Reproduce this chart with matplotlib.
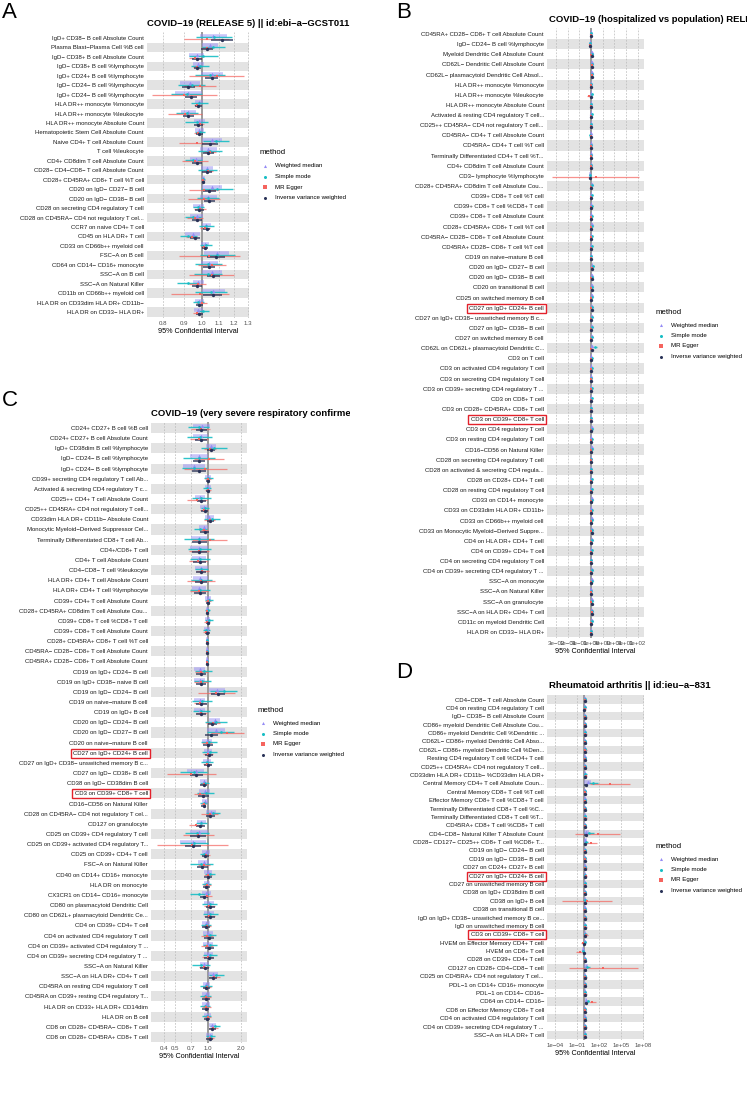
import numpy as np
import matplotlib
matplotlib.use("Agg")
import matplotlib.pyplot as plt
from matplotlib.lines import Line2D
from matplotlib.transforms import Bbox, TransformedBbox

plt.rcParams['font.family'] = ['Liberation Sans', 'DejaVu Sans']

# ---------------- data: (beta = log OR, se) per method ----------------
A_rows = ["IgD+ CD38− B cell Absolute Count", "Plasma Blast−Plasma Cell %B cell",
          "IgD− CD38+ B cell Absolute Count", "IgD− CD38+ B cell %lymphocyte",
          "IgD+ CD24+ B cell %lymphocyte", "IgD− CD24− B cell %lymphocyte",
          "IgD+ CD24− B cell %lymphocyte", "HLA DR++ monocyte %monocyte",
          "HLA DR++ monocyte %leukocyte", "HLA DR++ monocyte Absolute Count",
          "Hematopoietic Stem Cell Absolute Count", "Naive CD4+ T cell Absolute Count",
          "T cell %leukocyte", "CD4+ CD8dim T cell Absolute Count",
          "CD28− CD4−CD8− T cell Absolute Count", "CD28+ CD45RA+ CD8+ T cell %T cell",
          "CD20 on IgD− CD27− B cell", "CD20 on IgD− CD38− B cell",
          "CD28 on secreting CD4 regulatory T cell", "CD28 on CD45RA− CD4 not regulatory T cel...",
          "CCR7 on naive CD4+ T cell", "CD45 on HLA DR+ T cell",
          "CD33 on CD66b++ myeloid cell", "FSC−A on B cell",
          "CD64 on CD14− CD16+ monocyte", "SSC−A on B cell",
          "SSC−A on Natural Killer", "CD11b on CD66b++ myeloid cell",
          "HLA DR on CD33dim HLA DR+ CD11b−", "HLA DR on CD33− HLA DR+"]
A_ivw = [(0.112, 0.032), (0.030, 0.017), (-0.030, 0.015), (-0.027, 0.010), (0.055, 0.019),
         (-0.078, 0.019), (-0.065, 0.017), (-0.021, 0.010), (-0.078, 0.015), (-0.021, 0.013),
         (-0.015, 0.010), (0.046, 0.024), (0.036, 0.017), (-0.030, 0.015), (0.030, 0.014),
         (0.008, 0.004), (0.042, 0.019), (0.042, 0.017), (-0.015, 0.012), (-0.030, 0.015),
         (0.027, 0.010), (-0.040, 0.015), (0.017, 0.010), (0.080, 0.027), (0.040, 0.017),
         (0.065, 0.019), (-0.030, 0.015), (0.061, 0.027), (-0.015, 0.010), (-0.015, 0.010)]
A_egger = [(0.027, 0.066), (0.027, 0.015), (-0.040, 0.019), (-0.030, 0.010), (0.084, 0.080),
           (-0.011, 0.046), (-0.101, 0.095), (-0.027, 0.010), (-0.097, 0.049), (-0.011, 0.012),
           (-0.025, 0.012), (-0.027, 0.053), (0.046, 0.017), (-0.040, 0.039), (0.036, 0.015),
           (0.008, 0.006), (0.011, 0.044), (0.011, 0.046), (-0.011, 0.017), (-0.040, 0.024),
           (0.017, 0.015), (-0.059, 0.016), (0.011, 0.010), (0.040, 0.089), (0.055, 0.041),
           (0.055, 0.066), (-0.025, 0.024), (-0.011, 0.085), (-0.002, 0.016), (-0.030, 0.012)]
A_mode = [(0.070, 0.053), (0.065, 0.034), (0.008, 0.043), (-0.011, 0.027), (0.046, 0.044),
          (-0.059, 0.039), (-0.088, 0.046), (-0.015, 0.024), (-0.088, 0.032), (-0.030, 0.033),
          (-0.011, 0.015), (0.080, 0.039), (0.046, 0.036), (-0.050, 0.024), (0.030, 0.028),
          (0.008, 0.004), (0.084, 0.046), (0.036, 0.032), (-0.021, 0.017), (-0.050, 0.023),
          (0.023, 0.022), (-0.078, 0.024), (0.023, 0.017), (0.088, 0.052), (0.036, 0.040),
          (0.036, 0.041), (-0.078, 0.032), (0.050, 0.047), (-0.021, 0.017), (0.004, 0.017)]
A_wm = [(0.065, 0.039), (0.046, 0.023), (-0.030, 0.022), (-0.021, 0.015), (0.055, 0.032),
        (-0.069, 0.029), (-0.078, 0.039), (-0.017, 0.012), (-0.078, 0.022), (-0.015, 0.015),
        (-0.015, 0.012), (0.055, 0.029), (0.036, 0.024), (-0.034, 0.019), (0.030, 0.017),
        (0.008, 0.004), (0.055, 0.029), (0.036, 0.024), (-0.019, 0.016), (-0.030, 0.019),
        (0.023, 0.013), (-0.053, 0.022), (0.017, 0.012), (0.084, 0.036), (0.042, 0.024),
        (0.055, 0.029), (-0.021, 0.015), (0.065, 0.033), (-0.015, 0.012), (-0.021, 0.014)]

B_rows = ["CD45RA+ CD28− CD8+ T cell Absolute Count", "IgD− CD24− B cell %lymphocyte",
          "Myeloid Dendritic Cell Absolute Count", "CD62L− Dendritic Cell Absolute Count",
          "CD62L− plasmacytoid Dendritic Cell Absol...", "HLA DR++ monocyte %monocyte",
          "HLA DR++ monocyte %leukocyte", "HLA DR++ monocyte Absolute Count",
          "Activated & resting CD4 regulatory T cell...", "CD25++ CD45RA− CD4 not regulatory T cell...",
          "CD45RA− CD4+ T cell Absolute Count", "CD45RA− CD4+ T cell %T cell",
          "Terminally Differentiated CD4+ T cell %T...", "CD4+ CD8dim T cell Absolute Count",
          "CD3− lymphocyte %lymphocyte", "CD28+ CD45RA+ CD8dim T cell Absolute Cou...",
          "CD39+ CD8+ T cell %T cell", "CD39+ CD8+ T cell %CD8+ T cell",
          "CD39+ CD8+ T cell Absolute Count", "CD28+ CD45RA+ CD8+ T cell %T cell",
          "CD45RA− CD28− CD8+ T cell Absolute Count", "CD45RA+ CD28− CD8+ T cell %T cell",
          "CD19 on naive−mature B cell", "CD20 on IgD− CD27− B cell",
          "CD20 on IgD− CD38− B cell", "CD20 on transitional B cell",
          "CD25 on switched memory B cell", "CD27 on IgD+ CD24+ B cell",
          "CD27 on IgD+ CD38− unswitched memory B c...", "CD27 on IgD− CD38− B cell",
          "CD27 on switched memory B cell", "CD62L on CD62L+ plasmacytoid Dendritic C...",
          "CD3 on T cell", "CD3 on activated CD4 regulatory T cell",
          "CD3 on secreting CD4 regulatory T cell", "CD3 on CD39+ secreting CD4 regulatory T ...",
          "CD3 on CD8+ T cell", "CD3 on CD28+ CD45RA+ CD8+ T cell",
          "CD3 on CD39+ CD8+ T cell", "CD3 on CD4 regulatory T cell",
          "CD3 on resting CD4 regulatory T cell", "CD16−CD56 on Natural Killer",
          "CD28 on secreting CD4 regulatory T cell", "CD28 on activated & secreting CD4 regula...",
          "CD28 on CD28+ CD4+ T cell", "CD28 on resting CD4 regulatory T cell",
          "CD33 on CD14+ monocyte", "CD33 on CD33dim HLA DR+ CD11b+",
          "CD33 on CD66b++ myeloid cell", "CD33 on Monocytic Myeloid−Derived Suppre...",
          "CD4 on HLA DR+ CD4+ T cell", "CD4 on CD39+ CD4+ T cell",
          "CD4 on secreting CD4 regulatory T cell", "CD4 on CD39+ secreting CD4 regulatory T ...",
          "SSC−A on monocyte", "SSC−A on Natural Killer",
          "SSC−A on granulocyte", "SSC−A on HLA DR+ CD4+ T cell",
          "CD11c on myeloid Dendritic Cell", "HLA DR on CD33− HLA DR+"]
B_ivw = [(0.02, 0.01), (-0.08, 0.02), (0.05, 0.02), (0.06, 0.02), (0.07, 0.02),
         (0.00, 0.01), (0.01, 0.02), (0.01, 0.01), (0.03, 0.01), (0.02, 0.01),
         (-0.04, 0.02), (0.01, 0.01), (0.01, 0.01), (0.02, 0.02), (-0.06, 0.03),
         (0.04, 0.02), (0.03, 0.01), (0.03, 0.01), (0.03, 0.01), (0.04, 0.01),
         (0.03, 0.01), (0.03, 0.01), (0.00, 0.01), (0.08, 0.02), (0.05, 0.02),
         (0.06, 0.02), (0.04, 0.01), (0.05, 0.01), (0.04, 0.01), (0.04, 0.01),
         (0.04, 0.01), (0.06, 0.02), (0.03, 0.01), (0.03, 0.01), (0.02, 0.01),
         (0.02, 0.01), (0.03, 0.01), (0.02, 0.01), (0.02, 0.01), (0.04, 0.01),
         (0.03, 0.01), (0.04, 0.01), (0.01, 0.01), (-0.02, 0.01), (0.03, 0.01),
         (0.03, 0.01), (0.04, 0.01), (0.03, 0.01), (0.04, 0.01), (0.05, 0.01),
         (0.04, 0.01), (0.03, 0.01), (0.00, 0.01), (0.04, 0.01), (0.04, 0.01),
         (-0.03, 0.01), (0.05, 0.01), (0.06, 0.02), (0.04, 0.01), (0.01, 0.01)]
B_egger = [(0.03, 0.03), (-0.10, 0.04), (0.04, 0.03), (0.05, 0.03), (0.06, 0.04),
           (-0.02, 0.03), (-0.25, 0.06), (0.00, 0.03), (0.02, 0.03), (0.01, 0.03),
           (-0.05, 0.03), (0.00, 0.03), (0.00, 0.03), (0.01, 0.03), (0.45, 2.20),
           (0.03, 0.03), (0.02, 0.02), (0.02, 0.02), (0.02, 0.02), (0.03, 0.02),
           (0.02, 0.02), (0.02, 0.02), (-0.01, 0.02), (0.06, 0.04), (0.04, 0.03),
           (0.04, 0.03), (0.03, 0.02), (0.04, 0.02), (0.03, 0.02), (0.03, 0.02),
           (0.03, 0.02), (0.04, 0.03), (0.02, 0.02), (0.02, 0.02), (0.01, 0.02),
           (0.01, 0.02), (0.02, 0.02), (0.01, 0.02), (0.01, 0.02), (0.03, 0.02),
           (0.02, 0.02), (0.03, 0.02), (0.00, 0.02), (-0.04, 0.02), (0.02, 0.02),
           (0.02, 0.02), (0.03, 0.02), (0.02, 0.02), (0.03, 0.02), (0.04, 0.02),
           (0.03, 0.02), (0.02, 0.02), (-0.01, 0.02), (0.03, 0.02), (0.03, 0.02),
           (-0.05, 0.02), (0.04, 0.02), (0.05, 0.03), (0.03, 0.02), (0.00, 0.02)]
B_mode = [(0.03, 0.03), (-0.12, 0.05), (0.07, 0.04), (0.08, 0.04), (0.10, 0.05),
          (0.02, 0.03), (0.05, 0.05), (0.02, 0.03), (0.05, 0.03), (0.04, 0.03),
          (-0.06, 0.04), (0.03, 0.03), (0.02, 0.03), (0.03, 0.04), (-0.12, 0.06),
          (0.06, 0.04), (0.05, 0.03), (0.05, 0.03), (0.05, 0.03), (0.06, 0.03),
          (0.05, 0.03), (0.05, 0.03), (0.02, 0.03), (0.15, 0.05), (0.08, 0.04),
          (0.10, 0.05), (0.06, 0.03), (0.07, 0.03), (0.06, 0.03), (0.06, 0.03),
          (0.06, 0.03), (0.40, 0.08), (0.05, 0.03), (0.05, 0.03), (0.04, 0.03),
          (0.05, 0.03), (0.05, 0.03), (0.04, 0.03), (0.04, 0.03), (0.06, 0.03),
          (0.05, 0.03), (0.06, 0.03), (0.03, 0.03), (-0.03, 0.03), (0.05, 0.03),
          (0.05, 0.03), (0.06, 0.03), (0.05, 0.03), (0.06, 0.03), (0.07, 0.03),
          (0.06, 0.03), (0.05, 0.03), (0.02, 0.03), (0.08, 0.04), (0.06, 0.03),
          (-0.05, 0.03), (0.07, 0.03), (0.09, 0.04), (0.06, 0.03), (0.03, 0.03)]
B_wm = [(0.03, 0.02), (-0.09, 0.03), (0.06, 0.03), (0.07, 0.03), (0.08, 0.03),
        (0.01, 0.02), (0.02, 0.03), (0.02, 0.02), (0.04, 0.02), (0.03, 0.02),
        (-0.05, 0.03), (0.02, 0.02), (0.02, 0.02), (0.03, 0.03), (-0.08, 0.04),
        (0.05, 0.03), (0.04, 0.02), (0.04, 0.02), (0.04, 0.02), (0.05, 0.02),
        (0.04, 0.02), (0.04, 0.02), (0.01, 0.02), (0.10, 0.03), (0.06, 0.03),
        (0.07, 0.03), (0.05, 0.02), (0.06, 0.02), (0.05, 0.02), (0.05, 0.02),
        (0.05, 0.02), (0.08, 0.03), (0.04, 0.02), (0.04, 0.02), (0.03, 0.02),
        (0.03, 0.02), (0.04, 0.02), (0.03, 0.02), (0.03, 0.02), (0.05, 0.02),
        (0.04, 0.02), (0.05, 0.02), (0.02, 0.02), (-0.02, 0.02), (0.04, 0.02),
        (0.04, 0.02), (0.05, 0.02), (0.04, 0.02), (0.05, 0.02), (0.06, 0.02),
        (0.05, 0.02), (0.04, 0.02), (0.01, 0.02), (0.05, 0.02), (0.05, 0.02),
        (-0.04, 0.02), (0.06, 0.02), (0.07, 0.03), (0.05, 0.02), (0.02, 0.02)]

C_rows = ["CD24+ CD27+ B cell %B cell", "CD24+ CD27+ B cell Absolute Count",
          "IgD+ CD38dim B cell %lymphocyte", "IgD− CD24− B cell %lymphocyte",
          "IgD+ CD24− B cell %lymphocyte", "CD39+ secreting CD4 regulatory T cell Ab...",
          "Activated & secreting CD4 regulatory T c...", "CD25++ CD4+ T cell Absolute Count",
          "CD25++ CD45RA+ CD4 not regulatory T cell...", "CD33dim HLA DR+ CD11b− Absolute Count",
          "Monocytic Myeloid−Derived Suppressor Cel...", "Terminally Differentiated CD8+ T cell Ab...",
          "CD4+/CD8+ T cell", "CD4+ T cell Absolute Count",
          "CD4−CD8− T cell %leukocyte", "HLA DR+ CD4+ T cell Absolute Count",
          "HLA DR+ CD4+ T cell %lymphocyte", "CD39+ CD4+ T cell Absolute Count",
          "CD28+ CD45RA+ CD8dim T cell Absolute Cou...", "CD39+ CD8+ T cell %CD8+ T cell",
          "CD39+ CD8+ T cell Absolute Count", "CD28+ CD45RA+ CD8+ T cell %T cell",
          "CD45RA− CD28− CD8+ T cell Absolute Count", "CD45RA+ CD28− CD8+ T cell Absolute Count",
          "CD19 on IgD+ CD24− B cell", "CD19 on IgD+ CD38− naive B cell",
          "CD19 on IgD− CD24− B cell", "CD19 on naive−mature B cell",
          "CD19 on IgD+ B cell", "CD20 on IgD− CD24− B cell",
          "CD20 on IgD− CD27− B cell", "CD20 on naive−mature B cell",
          "CD27 on IgD+ CD24+ B cell", "CD27 on IgD+ CD38− unswitched memory B c...",
          "CD27 on IgD− CD38+ B cell", "CD38 on IgD− CD38dim B cell",
          "CD3 on CD39+ CD8+ T cell", "CD16−CD56 on Natural Killer",
          "CD28 on CD45RA− CD4 not regulatory T cel...", "CD127 on granulocyte",
          "CD25 on CD39+ CD4 regulatory T cell", "CD25 on CD39+ activated CD4 regulatory T...",
          "CD25 on CD39+ CD4+ T cell", "FSC−A on Natural Killer",
          "CD40 on CD14+ CD16+ monocyte", "HLA DR on monocyte",
          "CX3CR1 on CD14− CD16+ monocyte", "CD80 on plasmacytoid Dendritic Cell",
          "CD80 on CD62L+ plasmacytoid Dendritic Ce...", "CD4 on CD39+ CD4+ T cell",
          "CD4 on activated CD4 regulatory T cell", "CD4 on CD39+ activated CD4 regulatory T ...",
          "CD4 on CD39+ secreting CD4 regulatory T ...", "SSC−A on Natural Killer",
          "SSC−A on HLA DR+ CD4+ T cell", "CD45RA on resting CD4 regulatory T cell",
          "CD45RA on CD39+ resting CD4 regulatory T...", "HLA DR on CD33+ HLA DR+ CD14dim",
          "HLA DR on B cell", "CD8 on CD28+ CD45RA− CD8+ T cell",
          "CD8 on CD28+ CD45RA+ CD8+ T cell"]
C_ivw = [(-0.133, 0.061), (-0.147, 0.062), (0.063, 0.041), (-0.189, 0.062), (-0.182, 0.071),
         (0.007, 0.025), (0.007, 0.025), (-0.133, 0.050), (-0.063, 0.036), (0.056, 0.041),
         (-0.063, 0.050), (-0.182, 0.080), (-0.182, 0.080), (-0.168, 0.068), (-0.133, 0.054),
         (-0.147, 0.062), (-0.168, 0.064), (0.007, 0.025), (-0.007, 0.018), (0.007, 0.025),
         (-0.014, 0.027), (-0.007, 0.011), (-0.007, 0.011), (-0.007, 0.011), (-0.133, 0.054),
         (-0.133, 0.054), (0.217, 0.071), (-0.133, 0.057), (-0.133, 0.054), (0.098, 0.045),
         (0.077, 0.068), (0.007, 0.054), (0.021, 0.045), (0.007, 0.046), (-0.238, 0.071),
         (-0.084, 0.036), (-0.098, 0.059), (-0.084, 0.027), (0.056, 0.045), (-0.154, 0.045),
         (-0.203, 0.086), (-0.308, 0.089), (-0.049, 0.041), (-0.112, 0.059), (0.007, 0.046),
         (-0.028, 0.039), (-0.084, 0.045), (0.056, 0.045), (0.042, 0.054), (-0.028, 0.043),
         (0.028, 0.054), (0.028, 0.048), (0.028, 0.050), (-0.063, 0.050), (0.112, 0.045),
         (-0.028, 0.040), (-0.042, 0.045), (-0.042, 0.040), (-0.014, 0.035), (0.098, 0.040),
         (0.042, 0.035)]
C_egger = [(-0.147, 0.102), (-0.182, 0.095), (0.042, 0.062), (0.028, 0.161), (-0.049, 0.232),
           (0.007, 0.029), (0.007, 0.029), (-0.224, 0.107), (-0.084, 0.045), (0.042, 0.057),
           (-0.084, 0.048), (0.042, 0.187), (-0.189, 0.107), (-0.203, 0.095), (-0.112, 0.068),
           (-0.147, 0.152), (-0.182, 0.098), (0.007, 0.032), (-0.007, 0.018), (-0.014, 0.029),
           (-0.028, 0.032), (-0.007, 0.011), (-0.007, 0.011), (-0.007, 0.011), (-0.133, 0.071),
           (-0.147, 0.077), (0.182, 0.196), (-0.168, 0.064), (-0.133, 0.061), (0.112, 0.071),
           (0.413, 0.175), (-0.014, 0.057), (0.007, 0.050), (-0.014, 0.046), (-0.343, 0.259),
           (-0.084, 0.043), (-0.154, 0.071), (-0.084, 0.029), (0.042, 0.089), (-0.252, 0.075),
           (-0.203, 0.166), (-0.322, 0.384), (-0.028, 0.043), (-0.084, 0.062), (0.007, 0.046),
           (-0.014, 0.043), (-0.014, 0.054), (0.028, 0.059), (0.028, 0.059), (-0.014, 0.043),
           (-0.014, 0.062), (-0.014, 0.061), (0.000, 0.060), (-0.084, 0.055), (0.140, 0.055),
           (-0.014, 0.045), (-0.030, 0.050), (-0.030, 0.045), (0.000, 0.040), (0.120, 0.050),
           (0.050, 0.040)]
C_mode = [(-0.189, 0.112), (-0.168, 0.134), (0.133, 0.137), (-0.182, 0.169), (-0.287, 0.134),
          (0.014, 0.046), (-0.014, 0.046), (-0.133, 0.098), (-0.063, 0.041), (0.091, 0.089),
          (-0.154, 0.068), (-0.182, 0.164), (-0.168, 0.125), (-0.154, 0.107), (-0.133, 0.071),
          (-0.133, 0.116), (-0.168, 0.107), (0.028, 0.045), (0.000, 0.025), (0.028, 0.045),
          (-0.028, 0.036), (-0.007, 0.011), (-0.007, 0.011), (-0.007, 0.011), (-0.084, 0.089),
          (-0.112, 0.089), (0.336, 0.146), (-0.112, 0.107), (-0.133, 0.089), (0.168, 0.116),
          (0.273, 0.143), (0.028, 0.089), (0.042, 0.080), (-0.014, 0.062), (-0.294, 0.143),
          (-0.063, 0.050), (-0.042, 0.089), (-0.084, 0.036), (0.112, 0.078), (-0.133, 0.062),
          (-0.224, 0.125), (-0.294, 0.152), (-0.084, 0.045), (-0.133, 0.125), (0.042, 0.054),
          (-0.028, 0.048), (-0.182, 0.102), (0.042, 0.080), (0.056, 0.080), (-0.028, 0.054),
          (0.042, 0.071), (0.042, 0.077), (0.042, 0.075), (-0.140, 0.100), (0.182, 0.080),
          (-0.035, 0.060), (-0.050, 0.060), (-0.050, 0.055), (-0.020, 0.050), (0.147, 0.055),
          (0.060, 0.050)]
C_wm = [(-0.126, 0.089), (-0.147, 0.080), (0.077, 0.054), (-0.189, 0.098), (-0.287, 0.114),
        (0.007, 0.032), (0.000, 0.032), (-0.168, 0.054), (-0.084, 0.043), (0.028, 0.048),
        (-0.084, 0.050), (-0.182, 0.089), (-0.189, 0.095), (-0.182, 0.075), (-0.133, 0.066),
        (-0.154, 0.077), (-0.182, 0.075), (0.007, 0.029), (-0.007, 0.018), (0.000, 0.029),
        (-0.014, 0.029), (-0.007, 0.011), (-0.007, 0.011), (-0.007, 0.011), (-0.168, 0.057),
        (-0.168, 0.059), (0.196, 0.089), (-0.168, 0.059), (-0.168, 0.059), (0.147, 0.057),
        (0.168, 0.098), (-0.014, 0.050), (0.007, 0.046), (-0.014, 0.045), (-0.252, 0.089),
        (-0.084, 0.036), (-0.063, 0.061), (-0.063, 0.032), (0.077, 0.054), (-0.133, 0.046),
        (-0.182, 0.098), (-0.308, 0.143), (-0.042, 0.043), (-0.084, 0.057), (0.007, 0.039),
        (-0.014, 0.036), (-0.028, 0.050), (0.028, 0.050), (0.028, 0.050), (-0.028, 0.043),
        (0.007, 0.054), (0.007, 0.050), (0.014, 0.050), (-0.070, 0.050), (0.112, 0.050),
        (-0.028, 0.040), (-0.042, 0.045), (-0.040, 0.040), (-0.010, 0.035), (0.100, 0.040),
        (0.040, 0.035)]

D_rows = ["CD4−CD8− T cell Absolute Count", "CD4 on resting CD4 regulatory T cell",
          "IgD− CD38− B cell Absolute Count", "CD86+ myeloid Dendritic Cell Absolute Cou...",
          "CD86+ myeloid Dendritic Cell %Dendritic ...", "CD62L− CD86+ myeloid Dendritic Cell Abso...",
          "CD62L− CD86+ myeloid Dendritic Cell %Den...", "Resting CD4 regulatory T cell %CD4+ T cell",
          "CD25++ CD45RA+ CD4 not regulatory T cell...", "CD33dim HLA DR+ CD11b− %CD33dim HLA DR+",
          "Central Memory CD4+ T cell Absolute Coun...", "Central Memory CD8+ T cell %T cell",
          "Effector Memory CD8+ T cell %CD8+ T cell", "Terminally Differentiated CD8+ T cell %C...",
          "Terminally Differentiated CD8+ T cell %T...", "CD45RA+ CD8+ T cell %CD8+ T cell",
          "CD4−CD8− Natural Killer T Absolute Count", "CD28− CD127− CD25++ CD8+ T cell %CD8+ T...",
          "CD19 on IgD− CD24− B cell", "CD19 on IgD− CD38− B cell",
          "CD27 on CD24+ CD27+ B cell", "CD27 on IgD+ CD24+ B cell",
          "CD27 on unswitched memory B cell", "CD38 on IgD+ CD38dim B cell",
          "CD38 on IgD+ B cell", "CD38 on transitional B cell",
          "IgD on IgD+ CD38− unswitched memory B ce...", "IgD on unswitched memory B cell",
          "CD3 on CD39+ CD8+ T cell", "HVEM on Effector Memory CD4+ T cell",
          "HVEM on CD8+ T cell", "CD28 on CD39+ CD4+ T cell",
          "CD127 on CD28+ CD4−CD8− T cell", "CD25 on CD45RA+ CD4 not regulatory T cel...",
          "PDL−1 on CD14+ CD16+ monocyte", "PDL−1 on CD14− CD16−",
          "CD64 on CD14− CD16−", "CD8 on Effector Memory CD8+ T cell",
          "CD4 on activated CD4 regulatory T cell", "CD4 on CD39+ secreting CD4 regulatory T ...",
          "SSC−A on HLA DR+ T cell"]
D_ivw = [(0.10, 0.05), (0.05, 0.04), (0.08, 0.05), (0.10, 0.05), (0.12, 0.05),
         (0.10, 0.05), (0.12, 0.05), (0.08, 0.05), (0.10, 0.05), (0.15, 0.06),
         (0.60, 0.30), (0.10, 0.05), (0.08, 0.05), (0.10, 0.05), (0.12, 0.05),
         (0.10, 0.05), (0.40, 0.30), (0.25, 0.15), (0.08, 0.05), (0.10, 0.05),
         (0.10, 0.05), (0.12, 0.05), (0.10, 0.05), (0.08, 0.05), (0.10, 0.10),
         (0.08, 0.05), (0.10, 0.05), (0.10, 0.05), (0.12, 0.05), (0.05, 0.05),
         (-0.20, 0.10), (0.10, 0.05), (0.30, 0.20), (0.10, 0.05), (0.08, 0.05),
         (0.12, 0.05), (0.40, 0.15), (0.10, 0.05), (0.08, 0.05), (0.10, 0.05),
         (0.12, 0.05)]
D_egger = [(0.20, 0.20), (0.10, 0.15), (0.30, 0.20), (0.20, 0.20), (0.30, 0.20),
           (0.20, 0.20), (0.30, 0.20), (0.10, 0.20), (0.20, 0.20), (0.40, 0.30),
           (8.00, 3.20), (0.20, 0.20), (0.10, 0.20), (0.20, 0.20), (0.30, 0.20),
           (0.20, 0.20), (4.20, 3.60), (2.00, 1.00), (0.10, 0.20), (0.20, 0.20),
           (0.30, 0.20), (0.40, 0.30), (0.20, 0.20), (0.10, 0.20), (0.90, 4.00),
           (0.10, 0.20), (0.30, 0.30), (0.30, 0.20), (0.50, 0.40), (-0.30, 0.30),
           (-1.50, 0.50), (0.20, 0.20), (6.00, 5.50), (0.30, 0.30), (0.20, 0.20),
           (0.30, 0.30), (2.50, 0.60), (0.20, 0.20), (0.10, 0.20), (0.30, 0.30),
           (0.20, 0.20)]
D_mode = [(0.20, 0.15), (0.10, 0.10), (0.20, 0.15), (0.25, 0.15), (0.30, 0.15),
          (0.20, 0.15), (0.30, 0.15), (0.15, 0.15), (0.20, 0.15), (0.30, 0.20),
          (2.80, 0.80), (0.20, 0.15), (0.15, 0.15), (0.20, 0.15), (0.25, 0.15),
          (0.20, 0.15), (1.50, 0.80), (0.60, 0.30), (0.15, 0.15), (0.20, 0.15),
          (0.20, 0.15), (0.30, 0.15), (0.20, 0.15), (0.15, 0.15), (0.30, 0.30),
          (0.15, 0.15), (0.25, 0.15), (0.20, 0.15), (0.30, 0.20), (0.10, 0.15),
          (-0.40, 0.20), (0.20, 0.15), (0.80, 0.50), (0.25, 0.20), (0.15, 0.15),
          (0.30, 0.15), (1.00, 0.30), (0.20, 0.15), (0.15, 0.15), (0.20, 0.15),
          (0.30, 0.15)]
D_wm = [(0.15, 0.10), (0.08, 0.08), (0.12, 0.10), (0.15, 0.10), (0.18, 0.10),
        (0.15, 0.10), (0.18, 0.10), (0.12, 0.10), (0.15, 0.10), (0.20, 0.12),
        (1.00, 0.50), (0.15, 0.10), (0.12, 0.10), (0.15, 0.10), (0.18, 0.10),
        (0.15, 0.10), (0.60, 0.40), (0.35, 0.20), (0.12, 0.10), (0.15, 0.10),
        (0.15, 0.10), (0.18, 0.10), (0.15, 0.10), (0.12, 0.10), (0.20, 0.20),
        (0.12, 0.10), (0.15, 0.10), (0.15, 0.10), (0.18, 0.10), (0.08, 0.10),
        (-0.30, 0.15), (0.15, 0.10), (0.50, 0.30), (0.15, 0.12), (0.12, 0.10),
        (0.18, 0.10), (0.60, 0.20), (0.15, 0.10), (0.12, 0.10), (0.15, 0.10),
        (0.18, 0.10)]

boxed = ["CD27 on IgD+ CD24+ B cell", "CD3 on CD39+ CD8+ T cell"]
methods = ["Weighted median", "Simple mode", "MR Egger", "Inverse variance weighted"]
colors = ["#958CF5", "#17BEC5", "#F5645E", "#2A3358"]
markers = ["^", "o", "s", "o"]

W, H = 747, 1116
fig = plt.figure(figsize=(W / 100, H / 100), dpi=100)
fig.patch.set_facecolor("white")


def rect(x0, y0, x1, y1):
    return [x0 / W, 1 - y1 / H, (x1 - x0) / W, (y1 - y0) / H]


def forest(box, rows, wm, mode, egger, ivw, xlim, ticks, ticklabels):
    ax = fig.add_axes(rect(*box))
    n = len(rows)
    y = np.arange(n, 0, -1)
    for yi in y:
        if yi % 2 == 1:
            ax.axhspan(yi - 0.5, yi + 0.5, color="#E3E3E3", lw=0, zorder=0)
    for t in ticks:
        ax.axvline(t, color="#B9B9B9", lw=0.5, ls=(0, (2.5, 2)), zorder=1)
    ax.axvline(1, color="#9B9B9B", lw=1.4, zorder=2)

    styles = [(0.21, 2.6, 0.5, 2.6), (0.07, 1.0, 0.9, 1.9),
              (-0.07, 0.9, 0.7, 1.8), (-0.21, 1.1, 0.9, 2.4)]
    for data, col, mk, (off, lw, al, ms) in zip([wm, mode, egger, ivw], colors, markers, styles):
        b = np.array([d[0] for d in data])
        se = np.array([d[1] for d in data])
        ax.hlines(y + off, np.exp(b - 1.96 * se), np.exp(b + 1.96 * se),
                  color=col, lw=lw, alpha=al, zorder=3)
        ax.plot(np.exp(b), y + off, ls="none", marker=mk, ms=ms, color=col,
                mew=0, zorder=4)

    ax.set_xscale("log")
    ax.set_xlim(*xlim)
    ax.set_ylim(0.4, n + 0.6)
    ax.set_xticks(ticks)
    ax.set_xticklabels(ticklabels)
    ax.xaxis.set_minor_locator(matplotlib.ticker.NullLocator())
    ax.set_yticks(y)
    ax.set_yticklabels(rows)
    ax.tick_params(axis="y", length=0, pad=2.2, labelsize=4.3, labelcolor="#1a1a1a")
    ax.tick_params(axis="x", length=0, pad=2.2, labelsize=4.4, labelcolor="#4d4d4d")
    ax.set_xlabel("95% Confidential Interval", fontsize=5.2, labelpad=1.6)
    for s in ax.spines.values():
        s.set_visible(False)
    for lab in ax.get_yticklabels():
        if lab.get_text() in boxed:
            lab.set_bbox(dict(boxstyle="square,pad=0.35", fc="white", ec="#E3212B", lw=1.0))
    return ax


def legend(x, y):
    fig.text(x / W, 1 - y / H, "method", fontsize=5.6, va="center", ha="left")
    for i, (m, col, mk) in enumerate(zip(methods, colors, markers)):
        yy = 1 - (y + 13 + i * 10.5) / H
        fig.add_artist(Line2D([(x + 5) / W], [yy], transform=fig.transFigure,
                              marker=mk, ms=2.2, color=col, mew=0, ls="none"))
        fig.text((x + 15) / W, yy, m, fontsize=4.4, va="center", ha="left")


def title(x, y, s, clip_x=None):
    t = fig.text(x / W, 1 - y / H, s, fontsize=6.8, fontweight="bold", va="center", ha="left")
    if clip_x is not None:
        t.set_clip_box(TransformedBbox(Bbox([[0, 0], [clip_x / W, 1]]), fig.transFigure))
        t.set_clip_on(True)


def letter(x, y, s):
    fig.text(x / W, 1 - y / H, s, fontsize=16, va="center", ha="left")


# A
letter(2, 12, "A")
title(147, 24, "COVID−19 (RELEASE 5) || id:ebi−a−GCST011")
forest((147, 32.3, 249, 317.7), A_rows, A_wm, A_mode, A_egger, A_ivw,
       (0.730, 1.308), [0.8, 0.9, 1.0, 1.1, 1.2, 1.3],
       ["0.8", "0.9", "1.0", "1.1", "1.2", "1.3"])
legend(260, 153)

# B
letter(396, 12, "B")
title(549, 20, "COVID−19 (hospitalized vs population) RELEASE 5", clip_x=747)
b_ticks = [10 ** -1.5, 0.1, 10 ** -0.5, 1, 10 ** 0.5, 10, 10 ** 1.5, 100]
forest((547, 27.9, 644, 638.1), B_rows, B_wm, B_mode, B_egger, B_ivw,
       (10 ** -1.9, 10 ** 2.28), b_ticks,
       ["3e−02", "1e−01", "3e−01", "1e+00", "3e+00", "1e+01", "3e+01", "1e+02"])
legend(656, 312)

# C
letter(2, 400, "C")
title(151, 413, "COVID−19 (very severe respiratory confirmed covid vs population)", clip_x=350)
forest((151, 421.9, 247, 1043.1), C_rows, C_wm, C_mode, C_egger, C_ivw,
       (0.304, 2.28), [0.4, 0.5, 0.7, 1.0, 2.0], ["0.4", "0.5", "0.7", "1.0", "2.0"])
legend(258, 710)

# D
letter(396, 672, "D")
title(549, 686, "Rheumatoid arthritis || id:ieu−a−831")
forest((547, 694.5, 644, 1040), D_rows, D_wm, D_mode, D_egger, D_ivw,
       (10 ** -5.09, 10 ** 8.14), [1e-4, 1e-1, 1e2, 1e5, 1e8],
       ["1e−04", "1e−01", "1e+02", "1e+05", "1e+08"])
legend(656, 846)

fig.savefig("out.png", dpi=100)
